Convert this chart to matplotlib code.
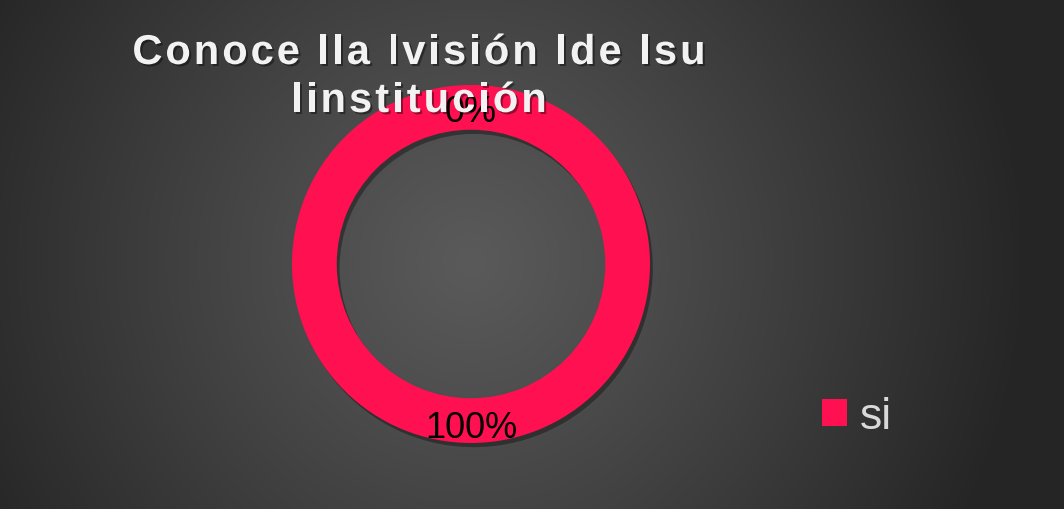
import numpy as np
import matplotlib
matplotlib.use("Agg")
import matplotlib.pyplot as plt
import matplotlib.patheffects as pe
from matplotlib.transforms import offset_copy

# ---- data ----
categories = ["si", ""]
values = [100, 0]
title_lines = ["Conoce lla lvisión lde lsu", "linstitución"]
ring_color = "#FF1050"

W, H = 1064, 510
fig = plt.figure(figsize=(W / 100, H / 100), dpi=100)

# background radial gradient
bg = fig.add_axes([0, 0, 1, 1])
yy, xx = np.mgrid[0:H, 0:W]
r = np.hypot(xx - 470, yy - 262)
t = np.clip(r / 560.0, 0, 1)
inner, outer = 0x5A / 255, 0x25 / 255
val = inner + (outer - inner) * t ** 1.1
bg.imshow(np.dstack([val, val, val]), extent=[0, W, H, 0], aspect="auto", interpolation="bilinear")
bg.set_xlim(0, W)
bg.set_ylim(H, 0)
bg.axis("off")

# donut
cx, cy, R = 471, 265, 179
ax = fig.add_axes([(cx - R) / W, (H - cy - R) / H, 2 * R / W, 2 * R / H])
ax.set_facecolor("none")
wedges, texts, autotexts = ax.pie(
    values, labels=None, colors=[ring_color, "#7F7F7F"], startangle=90, counterclock=False,
    radius=1.0, autopct="%1.0f%%", pctdistance=0.88,
    wedgeprops=dict(width=0.25, edgecolor="none"),
    textprops=dict(fontsize=26, color="black", family="Liberation Sans"),
)
for w in wedges:
    w.set_path_effects([pe.SimplePatchShadow(offset=(2, -3), shadow_rgbFace="black", alpha=0.35), pe.Normal()])
for a in autotexts:
    a.set_va("center")
    a.set_transform(offset_copy(ax.transData, fig=fig, x=0, y=-5.5, units="dots"))
ax.set_xlim(-1, 1)
ax.set_ylim(-1, 1)
ax.set_aspect("equal")
ax.axis("off")

# legend
leg = fig.legend([wedges[0]], [categories[0]], loc="center left",
                 bbox_to_anchor=(822 / W, (H - 418) / H), frameon=False,
                 prop=dict(family="Liberation Sans", size=32), labelcolor="#D9D9D9",
                 handlelength=0.57, handleheight=0.57, handletextpad=0.27,
                 borderpad=0, borderaxespad=0)
for h in leg.legend_handles:
    h.set_path_effects([])

# title with letter spacing
renderer = fig.canvas.get_renderer()
tprops = dict(family="Liberation Sans", weight="bold", size=30, color="#F2F2F2")
spacing = 3.0
shadow = [pe.SimplePatchShadow(offset=(1.5, -1.5), shadow_rgbFace="black", alpha=0.4), pe.Normal()]

def spaced_text(s, xc, ybase):
    widths = []
    for ch in s:
        tt = fig.text(0, 0, ch if ch != " " else "n", **tprops)
        bb = tt.get_window_extent(renderer)
        if ch == " ":
            tt2 = fig.text(0, 0, "n n", **tprops)
            wsp = tt2.get_window_extent(renderer).width - 2 * bb.width
            tt2.remove()
            widths.append(wsp)
        else:
            widths.append(bb.width)
        tt.remove()
    total = sum(widths) + spacing * (len(s) - 1)
    x = xc - total / 2
    for ch, w in zip(s, widths):
        if ch != " ":
            t_ = fig.text(x / W, (H - ybase) / H, ch, ha="left", va="baseline", zorder=10, **tprops)
            t_.set_path_effects(shadow)
        x += w + spacing

spaced_text(title_lines[0], 419, 65)
spaced_text(title_lines[1], 419, 113)

fig.savefig("out.png", dpi=100)
